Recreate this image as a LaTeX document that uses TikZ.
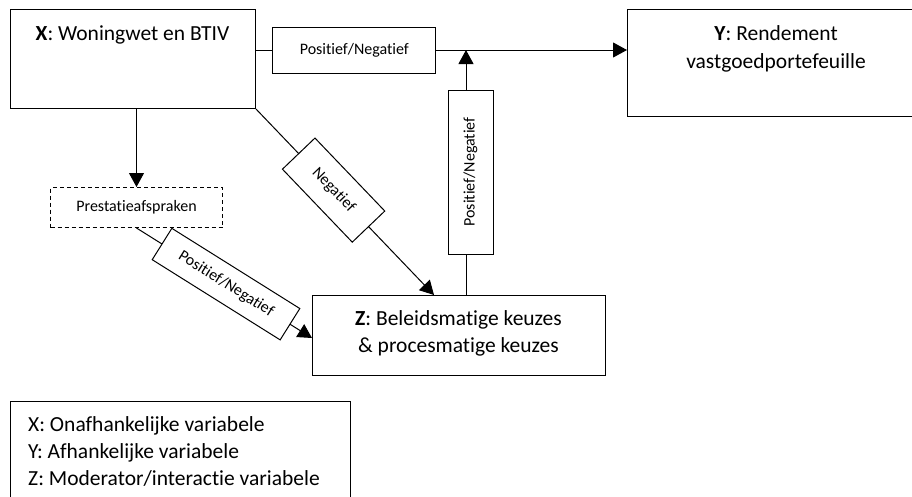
\documentclass[tikz,border=0pt]{standalone}
\usepackage{fontspec}
\setmainfont{Carlito}[Ligatures={NoCommon}]
\usetikzlibrary{arrows.meta}
\begin{document}
\begin{tikzpicture}[x=1pt,y=-1pt,
  box/.style={draw,line width=1pt,rectangle,inner sep=0pt,anchor=north west},
  tag/.style={draw,fill=white,line width=1pt,inner sep=0pt,sloped,
    font=\fontsize{16}{18}\selectfont},
  big/.style={font=\fontsize{21.5}{26}\selectfont,inner sep=0pt},
  link/.style={line width=1pt,-{Triangle[length=14pt,width=15pt]}},
]
\useasboundingbox (0,0) rectangle (912,496);
\clip (0,0) rectangle (912,496);

% boxes
\node[box,minimum width=245pt,minimum height=99pt] (X) at (10,9) {};
\node[box,minimum width=300pt,minimum height=107pt] (Y) at (627,9) {};
\node[box,minimum width=293pt,minimum height=80pt] (Z) at (312,295) {};
\node[box,dash pattern=on 4pt off 3pt,minimum width=172pt,minimum height=40pt,
      font=\fontsize{16}{18}\selectfont] (P) at (50,187) {Prestatieafspraken};
\node[box,minimum width=340pt,minimum height=130pt] (L) at (10,401) {};

% box texts
\node[big,anchor=base] (xt) at (132.5,40) {\textbf{X}: Woningwet en BTIV};
\node[big,anchor=base] (yt1) at (776,40) {\textbf{Y}: Rendement};
\node[big,anchor=base] (yt2) at (776,68) {vastgoedportefeuille};
\node[big,anchor=base] (zt1) at (458.5,325) {\textbf{Z}: Beleidsmatige keuzes};
\node[big,anchor=base] (zt2) at (458.5,352) {\&\ procesmatige keuzes};

% legend
\node[big,anchor=base west] (l1) at (28,431.7) {X: Onafhankelijke variabele};
\node[big,anchor=base west] (l2) at (28,458) {Y: Afhankelijke variabele};
\node[big,anchor=base west] (l3) at (28,485) {Z: Moderator/interactie variabele};

% connectors
\coordinate (j) at (466,50);
\draw[link] ([yshift=-41pt]X.north east) --
  node[tag,pos=0.265,minimum width=163pt,minimum height=46pt] (t1) {Positief/Negatief}
  ([yshift=-41pt]Y.north west);
\draw[link] ([xshift=154pt]Z.north west) -- (j);
\node[tag,rotate=90,minimum width=164pt,minimum height=45pt] (t2) at (470.5,172)
  {Positief/Negatief};
\draw[link] (P.north |- X.south) -- (P.north);
\draw[link] (X.south east) --
  node[tag,pos=0.436,minimum width=101pt,minimum height=45pt] (t3) {Negatief}
  ([xshift=122pt]Z.north west);
\draw[link] (P.south) --
  node[tag,pos=0.51,minimum width=151pt,minimum height=37pt] (t4) {Positief/Negatief}
  ([yshift=-43pt]Z.north west);
\end{tikzpicture}
\end{document}
